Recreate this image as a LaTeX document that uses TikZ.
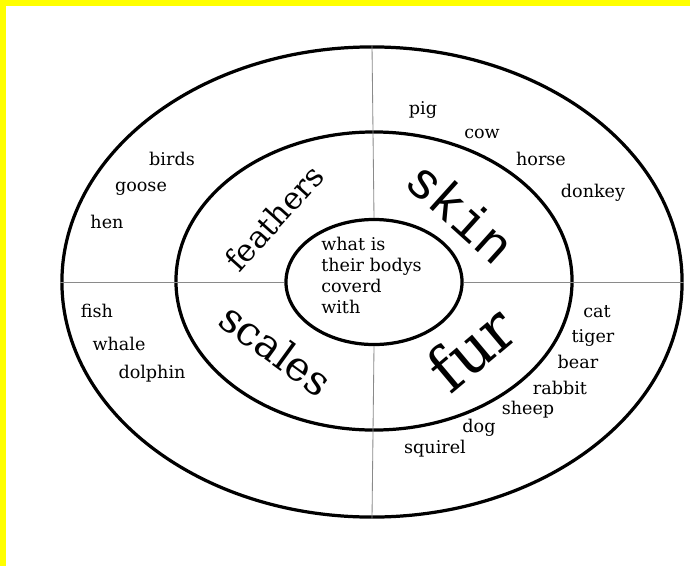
\documentclass[tikz,border=0pt]{standalone}
\usepackage{fontspec}
\setmainfont{DejaVu Serif}
\newfontfamily\skinfont{Liberation Mono}
\usetikzlibrary{shapes.geometric}
\definecolor{FrameYellow}{HTML}{FFFF00}
\definecolor{RuleGray}{HTML}{8A8A8A}
\tikzset{
  ring/.style={draw=black, line width=2.3pt, ellipse, inner sep=0pt, minimum width=#1},
  divider/.style={draw=RuleGray, line width=0.6pt},
  animal/.style={font=\fontsize{12.5}{15}\selectfont, inner sep=0pt},
  cover/.style={inner sep=0pt, anchor=center},
}

\begin{document}
\begin{tikzpicture}[x=0.025cm,y=-0.025cm]
  % page and yellow frame
  \fill[white] (0,0) rectangle (690,566);
  \fill[FrameYellow] (0,0) rectangle (690,6);
  \fill[FrameYellow] (0,0) rectangle (6,566);
  \useasboundingbox (0,0) rectangle (690,566);

  % the three rings
  \node[ring=15.5cm, minimum height=11.75cm] (outer) at (372,282) {};
  \node[ring=9.9cm, minimum height=7.45cm] (middle) at (374,281) {};
  \node[ring=4.4cm, minimum height=3.125cm] (inner) at (374,282) {};

  % quarter lines
  \draw[divider] (outer.north) -- (inner.north);
  \draw[divider] (inner.south) -- (outer.south);
  \draw[divider] (outer.west) -- (inner.west);
  \draw[divider] (inner.east) -- (outer.east);

  % question in the middle
  \node[animal, align=left, anchor=north west] (question) at (321,237)
    {what is\\their bodys\\coverd\\with};

  % body coverings
  \node[cover, rotate=48, font=\fontsize{22}{22}\selectfont] (feathers) at (274,218) {feathers};
  \node[cover, rotate=-42, font=\skinfont\fontsize{37}{37}\selectfont] (skin) at (461,212) {skin};
  \node[cover, rotate=-36, font=\fontsize{29}{29}\selectfont] (scales) at (276,349) {scales};
  \node[cover, rotate=40, font=\fontsize{44}{44}\selectfont] (fur) at (471,348) {fur};

  % feathers
  \node[animal] (birds) at (172,159) {birds};
  \node[animal] (goose) at (141,189) {goose};
  \node[animal] (hen) at (107,222) {hen};

  % skin
  \node[animal] (pig) at (423,110) {pig};
  \node[animal] (cow) at (482,134) {cow};
  \node[animal] (horse) at (541,159) {horse};
  \node[animal] (donkey) at (593,193) {donkey};

  % scales
  \node[animal] (fish) at (97,311) {fish};
  \node[animal] (whale) at (119,344) {whale};
  \node[animal] (dolphin) at (152,374) {dolphin};

  % fur
  \node[animal] (cat) at (597,312) {cat};
  \node[animal] (tiger) at (593,338) {tiger};
  \node[animal] (bear) at (578,362) {bear};
  \node[animal] (rabbit) at (560,388) {rabbit};
  \node[animal] (sheep) at (528,410) {sheep};
  \node[animal] (dog) at (479,428) {dog};
  \node[animal] (squirel) at (435,449) {squirel};
\end{tikzpicture}
\end{document}
